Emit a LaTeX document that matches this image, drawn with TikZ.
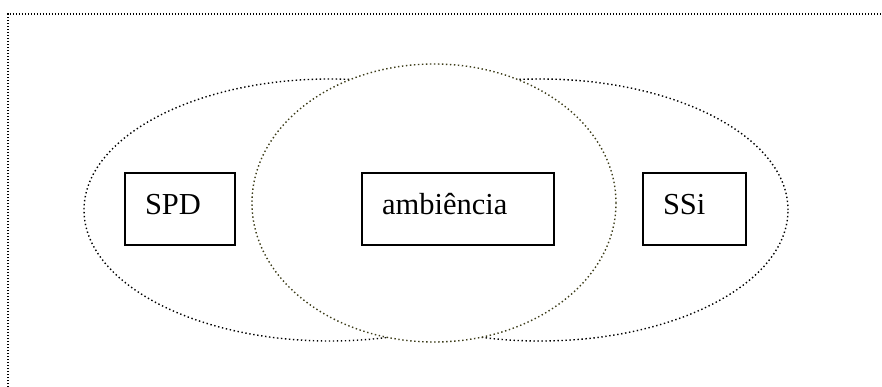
\documentclass[tikz,border=0pt]{standalone}
\usepackage{fontspec}
\setmainfont{Liberation Serif}
\usetikzlibrary{shapes.geometric}
\definecolor{olivedot}{RGB}{60,60,25}
\tikzset{
  frameline/.style={line width=1.3pt, dash pattern=on 1.3pt off 1.7pt},
  sideell/.style={ellipse, draw=black, line width=1.4pt, dash pattern=on 1.4pt off 2.6pt, inner sep=0pt},
  midell/.style={ellipse, draw=olivedot, fill=white, line width=1.4pt, dash pattern=on 1.4pt off 2.6pt, inner sep=0pt},
  labelbox/.style={draw=black, fill=white, line width=1.6pt, inner xsep=20pt, inner ysep=0pt,
    minimum height=72pt, align=left, text height=17pt, text depth=6pt,
    font=\fontsize{30.5}{36}\selectfont}
}
\begin{document}
\begin{tikzpicture}[x=1pt,y=-1pt]
\useasboundingbox (0,0) rectangle (882,387);
% frame
\coordinate (fbl) at (8,387);
\coordinate (ftl) at (8,14);
\coordinate (ftr) at (882,14);
\draw[frameline] (fbl) -- (ftl) -- (ftr);
% ellipses
\node[sideell, minimum width=492pt, minimum height=262pt] (eleft) at (330,210) {};
\node[sideell, minimum width=496pt, minimum height=262pt] (eright) at (540,210) {};
\node[midell, minimum width=364pt, minimum height=278pt] (emid) at (434,203) {};
% boxes
\node[labelbox, text width=70pt] (spd) at (180,209) {SPD};
\node[labelbox, text width=152pt] (amb) at (458,209) {ambiência};
\node[labelbox, text width=63pt] (ssi) at (694.5,209) {SSi};
\end{tikzpicture}
\end{document}
